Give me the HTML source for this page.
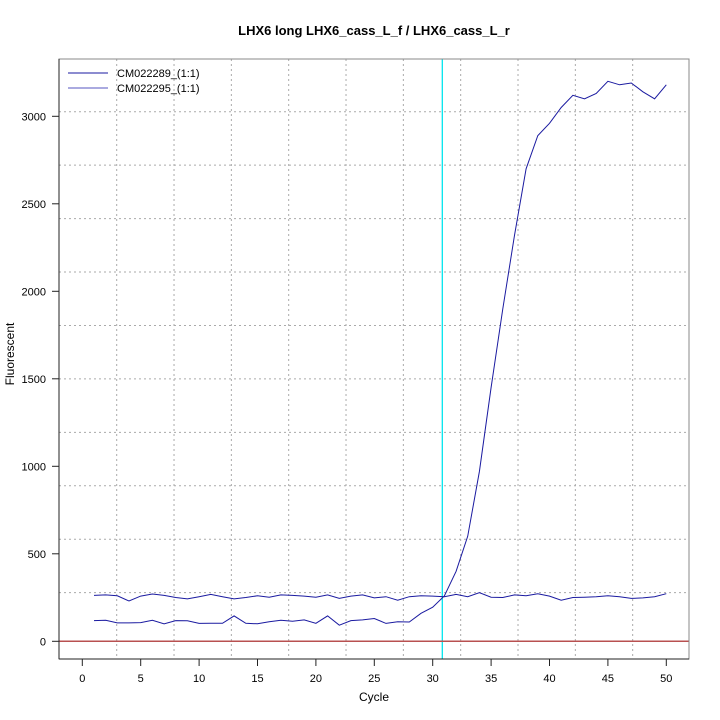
<!DOCTYPE html>
<html><head><meta charset="utf-8"><style>body{margin:0;background:#fff}svg{display:block}</style></head><body>
<svg width="720" height="720" xmlns="http://www.w3.org/2000/svg" font-family="Liberation Sans, sans-serif">
<rect width="720" height="720" fill="#fff"/>
<text x="374" y="35" text-anchor="middle" font-size="13" font-weight="bold">LHX6 long LHX6_cass_L_f / LHX6_cass_L_r</text>
<g stroke="#aaa" stroke-width="1" stroke-dasharray="2,3" fill="none" id="grid"></g>
<line x1="442.3" y1="59" x2="442.3" y2="659" stroke="#00e5ee" stroke-width="1.3"/>
<line x1="59" y1="641.3" x2="689" y2="641.3" stroke="#b85050" stroke-width="1.5"/>
<polyline id="s1" fill="none" stroke="#1a1aa0" stroke-width="1"/>
<polyline id="s2" fill="none" stroke="#1a1aa0" stroke-width="1"/>
<rect x="59" y="59" width="630" height="600" fill="none" stroke="#888" stroke-width="1"/>
<line x1="59" y1="59" x2="59" y2="659" stroke="#222"/>
<line x1="59" y1="659" x2="689" y2="659" stroke="#222"/>
<g id="ax" font-size="11" fill="#000"></g>
<text x="374" y="701" text-anchor="middle" font-size="12">Cycle</text>
<text transform="translate(14,354) rotate(-90)" text-anchor="middle" font-size="12">Fluorescent</text>
<line x1="68" y1="73" x2="108" y2="73" stroke="#1a1aa0"/>
<line x1="68" y1="88" x2="108" y2="88" stroke="#5555c0"/>
<text x="117" y="77" font-size="11">CM022289_(1:1)</text>
<text x="117" y="92" font-size="11">CM022295_(1:1)</text>
<script>
var ns="http://www.w3.org/2000/svg";
function X(c){return 82.3+c*11.68}
function Y(v){return 641.3-v*0.175}
var g=document.getElementById('grid');
for(var k=0;k<10;k++){var x=116.7+57.33*k;var l=document.createElementNS(ns,'line');l.setAttribute('x1',x);l.setAttribute('x2',x);l.setAttribute('y1',59);l.setAttribute('y2',659);g.appendChild(l);
var y=111.7+53.44*k;l=document.createElementNS(ns,'line');l.setAttribute('y1',y);l.setAttribute('y2',y);l.setAttribute('x1',59);l.setAttribute('x2',689);g.appendChild(l);}
var B=[118,120,105,105,107,120,100,118,117,102,103,103,145,103,100,112,120,115,122,103,145,92,118,122,130,102,112,110,160,195,260,400,600,970,1450,1900,2320,2700,2890,2960,3050,3120,3100,3130,3200,3180,3190,3140,3100,3180];
var A=[262,265,260,230,258,270,262,250,242,255,268,255,242,250,260,252,265,262,258,252,265,245,258,265,248,255,235,255,260,258,255,268,255,278,252,250,265,260,272,258,235,250,252,255,260,255,245,248,255,272];
function pts(a){return a.map(function(v,i){return X(i+1).toFixed(1)+','+Y(v).toFixed(1)}).join(' ')}
document.getElementById('s1').setAttribute('points',pts(B));
document.getElementById('s2').setAttribute('points',pts(A));
var ax=document.getElementById('ax');
function add(tag,attrs,txt){var e=document.createElementNS(ns,tag);for(var k in attrs)e.setAttribute(k,attrs[k]);if(txt!=null)e.textContent=txt;ax.appendChild(e);}
for(var c=0;c<=50;c+=5){var x=X(c);add('line',{x1:x,x2:x,y1:659,y2:666,stroke:'#222'});add('text',{x:x,y:682,'text-anchor':'middle'},String(c));}
for(var v=0;v<=3000;v+=500){var y=Y(v);add('line',{x1:52,x2:59,y1:y,y2:y,stroke:'#222'});add('text',{x:46,y:y+4,'text-anchor':'end'},String(v));}
</script>
</svg>
</body></html>
